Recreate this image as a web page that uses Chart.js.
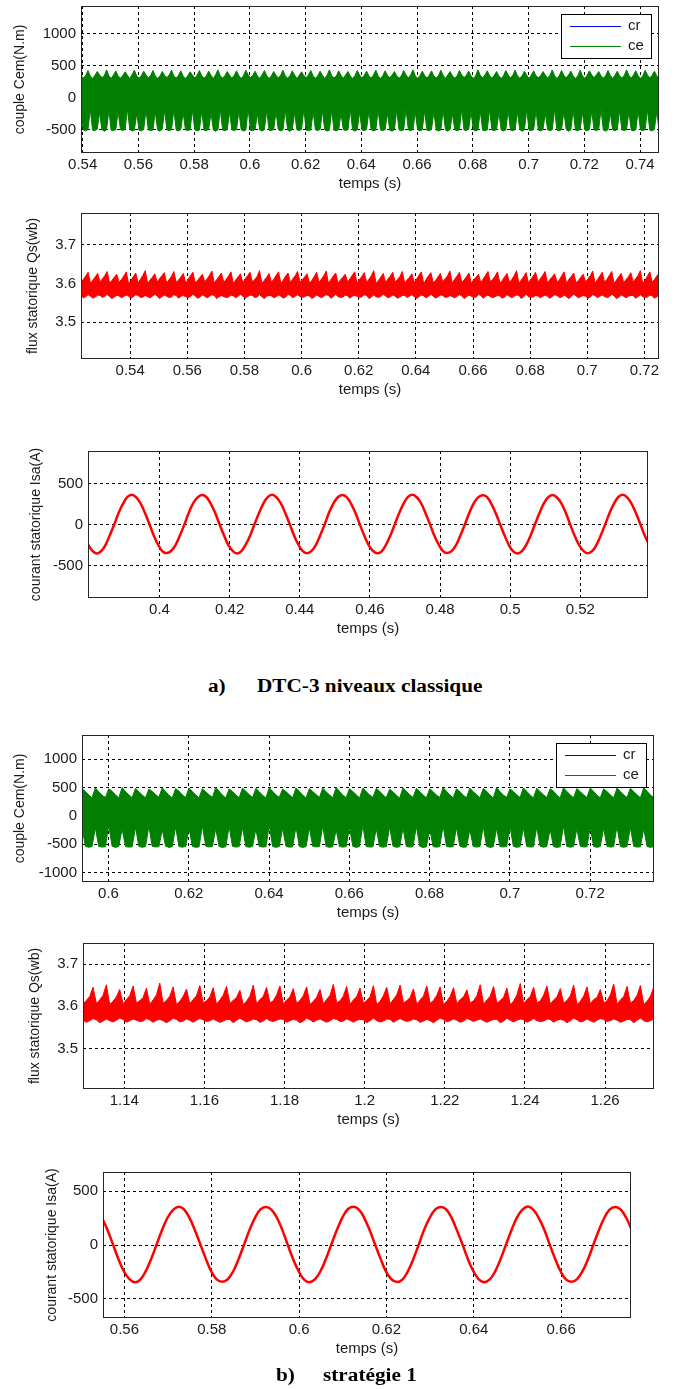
<!DOCTYPE html>
<html lang="fr">
<head>
<meta charset="UTF-8">
<title>DTC-3 niveaux</title>
<style>
  body { margin: 0; background: #fff; }
  .page { position: relative; width: 677px; height: 1389px; overflow: hidden; }
  canvas { position: absolute; left: 0; }
  .legende {
    position: absolute; font-family: "Liberation Serif", "Times New Roman", serif;
    font-weight: bold; font-size: 18px; line-height: 20px; color: #000;
    white-space: pre; transform: scaleX(1.18); transform-origin: left center;
  }
</style>
</head>
<body>
<div class="page">
  <canvas id="c1"></canvas>
  <canvas id="c2"></canvas>
  <canvas id="c3"></canvas>
  <canvas id="c4"></canvas>
  <canvas id="c5"></canvas>
  <canvas id="c6"></canvas>
  <div class="legende" style="left:208px;top:676px">a)</div>
  <div class="legende" style="left:257px;top:676px">DTC-3 niveaux classique</div>
  <div class="legende" style="left:276px;top:1365px">b)</div>
  <div class="legende" style="left:323px;top:1365px">stratégie 1</div>
</div>
<script src="https://cdn.jsdelivr.net/npm/chart.js"></script>
<script>
// ---- données ----
// couple a) : enveloppes haute / basse du signal ce, échantillonnées tous les pas1 (s)
const t1 = 0.5394, pas1 = 0.000833;
const ceHaut1 = [
  350,305,345,425, 340,300,350,410, 355,315,340,435, 345,300,355,420,
  335,310,345,405, 350,300,360,430, 340,305,345,415, 355,310,350,425,
  345,300,340,410, 350,315,355,430, 340,305,350,420, 335,300,345,405,
  355,310,350,425, 345,305,340,415, 350,300,360,435, 340,310,345,410,
  350,305,350,420, 345,300,345,430, 355,315,350,415, 340,305,355,425,
  345,300,340,410, 350,310,350,430, 340,305,345,420, 355,300,350,405,
  345,315,355,425, 340,305,345,415, 350,300,350,435, 345,310,340,420,
  350,305,355,410, 340,300,345,425, 355,310,350,415, 345,305,355,430,
  340,300,345,420, 350,315,350,410, 345,305,340,425, 355,310,355,435,
  345,300,345,415, 350,305,350,420, 340,310,345,430, 350,300,355,410,
  345,305,340,425, 355,315,350,415, 340,300,345,435, 350,310,355,420,
  345,305,350,410, 340,300,345,425, 355,310,350,430, 345,305,340,415,
  350,300,355,420, 340,315,345,410, 355,305,350,435, 345,300,345,425,
  350,310,355,415, 340,305,340,430, 345,300,350,420, 355,315,355,410,
  345,305,345,425, 350,300,350,415, 340,310,345,435, 350,305,355,420,
  345,300,340,430, 355,310,350,415, 340,305
];
const ceBas1 = [
  -200,-500,-515,-495, -180,-505,-510,-490, -230,-495,-520,-500, -190,-505,-512,-495,
  -210,-498,-510,-492, -170,-495,-518,-505, -240,-505,-515,-495, -185,-500,-510,-500,
  -215,-502,-520,-490, -195,-498,-512,-497, -175,-505,-516,-493, -225,-500,-510,-498,
  -190,-496,-518,-502, -205,-504,-511,-491, -235,-499,-521,-496, -180,-503,-514,-494,
  -220,-501,-509,-499, -200,-497,-517,-503, -170,-506,-513,-492, -245,-500,-519,-497,
  -195,-503,-511,-494, -210,-498,-516,-500, -185,-502,-522,-495, -230,-499,-510,-493,
  -175,-504,-515,-498, -215,-496,-512,-491, -200,-501,-518,-504, -190,-505,-514,-496,
  -240,-497,-511,-495, -180,-503,-519,-499, -220,-500,-513,-492, -205,-498,-517,-501,
  -185,-502,-510,-497, -235,-504,-520,-494, -195,-499,-514,-500, -170,-501,-512,-493,
  -225,-496,-518,-498, -200,-505,-511,-495, -210,-500,-516,-502, -190,-503,-521,-494,
  -245,-498,-513,-499, -175,-502,-509,-491, -215,-497,-519,-497, -205,-504,-515,-500,
  -180,-500,-512,-493, -230,-499,-517,-498, -195,-503,-514,-495, -220,-496,-520,-501,
  -185,-505,-510,-496, -200,-501,-518,-492, -240,-498,-513,-499, -175,-502,-516,-494,
  -210,-497,-521,-500, -190,-504,-511,-495, -225,-500,-515,-497, -205,-499,-512,-493,
  -180,-503,-519,-498, -235,-496,-514,-494, -195,-501,-510,-501, -215,-505,-517,-496,
  -200,-499,-513,-495, -185,-502,-518,-492, -220,-500
];

// flux a)
const t2 = 0.5228, pas2 = 0.000833;
const qsHaut1 = [
  3.602,3.611,3.619,3.629, 3.600,3.609,3.617,3.626, 3.604,3.612,3.620,3.631, 3.601,3.608,3.616,3.624,
  3.603,3.610,3.619,3.630, 3.599,3.608,3.618,3.627, 3.602,3.611,3.621,3.633, 3.600,3.609,3.616,3.625,
  3.604,3.612,3.620,3.628, 3.601,3.610,3.618,3.631, 3.603,3.609,3.617,3.626, 3.600,3.611,3.620,3.629,
  3.602,3.608,3.616,3.624, 3.604,3.612,3.621,3.632, 3.601,3.610,3.618,3.627, 3.603,3.611,3.619,3.630,
  3.600,3.609,3.617,3.625, 3.602,3.612,3.620,3.629, 3.604,3.610,3.618,3.633, 3.601,3.608,3.616,3.626,
  3.603,3.611,3.621,3.630, 3.600,3.609,3.619,3.627, 3.602,3.612,3.620,3.631, 3.604,3.610,3.617,3.625,
  3.601,3.608,3.618,3.629, 3.603,3.611,3.620,3.632, 3.600,3.610,3.619,3.627, 3.602,3.609,3.616,3.624,
  3.604,3.612,3.621,3.630, 3.601,3.610,3.618,3.628, 3.603,3.611,3.620,3.633, 3.600,3.608,3.617,3.626,
  3.602,3.612,3.619,3.629, 3.604,3.610,3.618,3.631, 3.601,3.609,3.616,3.625, 3.603,3.611,3.621,3.630,
  3.600,3.610,3.620,3.628, 3.602,3.608,3.617,3.626, 3.604,3.612,3.620,3.632, 3.601,3.611,3.619,3.629,
  3.603,3.609,3.618,3.627, 3.600,3.610,3.616,3.624, 3.602,3.612,3.621,3.631, 3.604,3.611,3.619,3.630,
  3.601,3.608,3.617,3.626, 3.603,3.610,3.620,3.633, 3.600,3.609,3.618,3.628, 3.602,3.611,3.619,3.629,
  3.604,3.612,3.621,3.631, 3.601,3.610,3.617,3.625, 3.603,3.609,3.620,3.630, 3.600,3.611,3.618,3.627,
  3.602,3.608,3.616,3.624, 3.604,3.612,3.620,3.632, 3.601,3.610,3.619,3.629, 3.603,3.611,3.621,3.631,
  3.600,3.609,3.618,3.626, 3.602,3.610,3.617,3.628, 3.604,3.612,3.620,3.633, 3.601,3.608,3.619,3.630,
  3.603,3.611,3.620,3.627
];
const qsBas1 = [
  3.568,3.563,3.566,3.571, 3.567,3.562,3.565,3.570, 3.569,3.564,3.567,3.572, 3.566,3.561,3.565,3.569,
  3.568,3.563,3.567,3.570, 3.567,3.562,3.566,3.571, 3.569,3.564,3.565,3.569, 3.566,3.563,3.567,3.572,
  3.568,3.561,3.566,3.570, 3.567,3.564,3.565,3.571, 3.569,3.562,3.567,3.569, 3.566,3.563,3.566,3.572,
  3.568,3.562,3.565,3.570, 3.567,3.563,3.567,3.571, 3.569,3.561,3.566,3.569, 3.566,3.564,3.565,3.570,
  3.568,3.563,3.567,3.572, 3.567,3.562,3.566,3.570, 3.569,3.564,3.565,3.571, 3.566,3.561,3.567,3.569,
  3.568,3.563,3.566,3.570, 3.567,3.562,3.565,3.572, 3.569,3.563,3.567,3.571, 3.566,3.564,3.566,3.569,
  3.568,3.561,3.565,3.570, 3.567,3.563,3.567,3.571, 3.569,3.562,3.566,3.572, 3.566,3.564,3.565,3.570,
  3.568,3.562,3.567,3.569, 3.567,3.563,3.566,3.571, 3.569,3.561,3.565,3.570, 3.566,3.564,3.567,3.572,
  3.568,3.563,3.566,3.570, 3.567,3.562,3.565,3.569, 3.569,3.564,3.567,3.571, 3.566,3.561,3.566,3.570,
  3.568,3.563,3.567,3.572, 3.567,3.562,3.566,3.570, 3.569,3.564,3.565,3.569, 3.566,3.563,3.567,3.571,
  3.568,3.561,3.566,3.570, 3.567,3.564,3.565,3.572, 3.569,3.562,3.567,3.570, 3.566,3.563,3.566,3.569,
  3.568,3.562,3.565,3.571, 3.567,3.563,3.567,3.570, 3.569,3.561,3.566,3.572, 3.566,3.564,3.565,3.569,
  3.568,3.563,3.567,3.570, 3.567,3.562,3.566,3.571, 3.569,3.564,3.565,3.570, 3.566,3.561,3.567,3.572,
  3.568,3.563,3.566,3.569, 3.567,3.562,3.565,3.571, 3.569,3.563,3.567,3.570, 3.566,3.564,3.566,3.572,
  3.568,3.561,3.565,3.570, 3.567,3.563,3.567,3.569, 3.569,3.562,3.566,3.571, 3.566,3.564,3.565,3.570,
  3.568,3.562,3.566,3.571
];

// courant a)
const t3 = 0.3796, pas3 = 0.00125;
const isa1 = [
  -238,-316,-347,-320,-244,-123,8,149,258,340,
  368,335,263,144,12,-128,-239,-321,-343,-315,-243,-125,6,148,264,336,
  363,340,259,147,9,-124,-244,-317,-348,-319,-238,-128,11,143,260,339,
  366,336,262,145,13,-127,-240,-320,-344,-316,-242,-122,7,150,262,337,
  364,339,260,148,8,-125,-243,-315,-346,-321,-240,-127,10,145,259,341,
  367,337,264,143,11,-129,-238,-319,-342,-317,-244,-124,9,147,263,335,
  362,341,258,146,10,-123,-242,-322,-347,-318,-239,-126,12,144,261,338,
  365,334,262,149,7,-128,-241,-316,-345,-320,-243,-125,8,146,260,340,
  366,336,259,144,11,-126,-240
];

// couple b)
const t4 = 0.5934, pas4 = 0.000833;
const ceHaut2 = [
  485,432,372,318, 495,428,365,325, 478,435,375,315, 500,430,368,322,
  488,426,370,320, 472,433,378,328, 497,429,366,316, 483,436,371,324,
  492,431,369,319, 480,427,374,326, 503,434,367,317, 476,430,372,321,
  490,433,376,323, 486,428,364,318, 498,435,370,327, 474,429,373,320,
  494,432,368,315, 482,430,377,325, 489,426,371,319, 501,434,366,322,
  479,431,374,317, 493,429,369,328, 485,436,372,321, 470,427,365,316,
  496,433,375,324, 487,430,370,319, 481,428,367,326, 499,435,373,318,
  477,432,366,322, 491,426,376,320, 484,434,371,315, 502,429,368,327,
  475,431,372,323, 495,433,369,317, 488,428,374,325, 480,436,367,320,
  497,430,371,318, 483,427,375,324, 492,434,366,321, 478,429,373,316,
  490,432,369,326, 486,430,372,319, 499,435,368,322
];
const ceBas2 = [
  -190,-538,-556,-544, -210,-542,-552,-547, -170,-536,-559,-541, -230,-544,-553,-548,
  -200,-539,-557,-543, -180,-541,-550,-546, -240,-537,-558,-545, -195,-543,-554,-540,
  -215,-540,-556,-549, -175,-535,-551,-542, -225,-542,-560,-546, -185,-538,-553,-544,
  -205,-544,-555,-541, -235,-539,-552,-547, -165,-541,-557,-543, -220,-536,-554,-548,
  -190,-543,-559,-545, -210,-537,-550,-542, -180,-540,-556,-546, -245,-542,-553,-544,
  -200,-538,-558,-541, -170,-544,-551,-548, -225,-539,-555,-543, -195,-535,-557,-546,
  -215,-541,-552,-544, -185,-537,-560,-547, -230,-543,-554,-542, -175,-540,-551,-545,
  -205,-536,-556,-549, -240,-542,-553,-543, -190,-538,-558,-546, -220,-544,-550,-541,
  -180,-539,-557,-545, -210,-541,-552,-548, -200,-537,-555,-542, -235,-543,-559,-546,
  -175,-540,-554,-544, -225,-536,-551,-547, -195,-542,-557,-543, -215,-538,-553,-545,
  -185,-544,-556,-541, -205,-539,-552,-548, -230,-541,-558,-544
];

// flux b)
const t5 = 1.1297, pas5 = 0.000833;
const qsHaut2 = [
  3.605,3.614,3.623,3.645, 3.607,3.615,3.626,3.651, 3.604,3.612,3.622,3.640, 3.606,3.616,3.625,3.648,
  3.608,3.613,3.621,3.643, 3.605,3.615,3.627,3.655, 3.607,3.614,3.624,3.646, 3.604,3.612,3.623,3.641,
  3.606,3.616,3.625,3.649, 3.608,3.613,3.622,3.644, 3.605,3.615,3.626,3.647, 3.607,3.614,3.621,3.638,
  3.604,3.612,3.624,3.650, 3.606,3.616,3.623,3.645, 3.608,3.613,3.627,3.648, 3.605,3.615,3.622,3.642,
  3.607,3.614,3.625,3.646, 3.604,3.612,3.621,3.640, 3.606,3.616,3.626,3.652, 3.608,3.613,3.624,3.647,
  3.605,3.615,3.623,3.643, 3.607,3.614,3.622,3.649, 3.604,3.612,3.625,3.645, 3.606,3.616,3.627,3.650,
  3.608,3.613,3.621,3.641, 3.605,3.615,3.624,3.648, 3.607,3.614,3.626,3.646, 3.604,3.612,3.623,3.644,
  3.606,3.616,3.622,3.639, 3.608,3.613,3.625,3.651, 3.605,3.615,3.624,3.647, 3.607,3.614,3.621,3.643,
  3.604,3.612,3.627,3.654, 3.606,3.616,3.623,3.645, 3.608,3.613,3.626,3.648, 3.605,3.615,3.622,3.642,
  3.607,3.614,3.625,3.650, 3.604,3.612,3.624,3.646, 3.606,3.616,3.621,3.640, 3.608,3.613,3.627,3.653,
  3.605,3.615,3.623,3.647, 3.607,3.614,3.626,3.649, 3.604,3.612,3.624,3.645
];
const qsBas2 = [
  3.567,3.562,3.566,3.571, 3.568,3.561,3.565,3.570, 3.566,3.563,3.567,3.572, 3.569,3.562,3.566,3.570,
  3.567,3.564,3.565,3.571, 3.568,3.562,3.567,3.569, 3.566,3.561,3.566,3.572, 3.569,3.563,3.565,3.570,
  3.567,3.562,3.567,3.571, 3.568,3.564,3.566,3.570, 3.566,3.562,3.565,3.569, 3.569,3.561,3.567,3.572,
  3.567,3.563,3.566,3.570, 3.568,3.562,3.565,3.571, 3.566,3.564,3.567,3.570, 3.569,3.562,3.566,3.569,
  3.567,3.561,3.565,3.572, 3.568,3.563,3.567,3.570, 3.566,3.562,3.566,3.571, 3.569,3.564,3.565,3.570,
  3.567,3.562,3.567,3.569, 3.568,3.561,3.566,3.572, 3.566,3.563,3.565,3.570, 3.569,3.562,3.567,3.571,
  3.567,3.564,3.566,3.570, 3.568,3.562,3.565,3.569, 3.566,3.561,3.567,3.572, 3.569,3.563,3.566,3.570,
  3.567,3.562,3.565,3.571, 3.568,3.564,3.567,3.570, 3.566,3.562,3.566,3.569, 3.569,3.561,3.565,3.572,
  3.567,3.563,3.567,3.570, 3.568,3.562,3.566,3.571, 3.566,3.564,3.565,3.570, 3.569,3.562,3.567,3.569,
  3.567,3.561,3.566,3.572, 3.568,3.563,3.565,3.570, 3.566,3.562,3.567,3.571, 3.569,3.564,3.566,3.570,
  3.567,3.562,3.565,3.569, 3.568,3.561,3.567,3.572, 3.566,3.563,3.566,3.570
];

// courant b)
const t6 = 0.5549, pas6 = 0.00125;
const isa2 = [
  250,138,4,-132,-247,-318,-348,-322,-243,-128,8,142,256,328,
  357,332,252,137,6,-129,-246,-321,-343,-319,-247,-131,3,141,253,331,
  354,329,256,141,2,-133,-244,-323,-347,-318,-244,-128,7,139,255,333,
  356,331,253,139,5,-127,-248,-319,-344,-322,-246,-132,4,143,252,329,
  353,333,255,136,7,-131,-243,-320,-346,-321,-245,-129,6,140,257,330,
  358,328,251,142,3,-130,-247,-322,-342,-317,-243,-133,5,138,254,332,
  355,330,254,141
];

// couple de charge cr (masqué sous ce)
const cr1 = [0, 0];
const cr2 = [0, 0];

// graduations
const xTicks1 = [0.54, 0.56, 0.58, 0.6, 0.62, 0.64, 0.66, 0.68, 0.7, 0.72, 0.74];
const xLabels1 = ['0.54', '0.56', '0.58', '0.6', '0.62', '0.64', '0.66', '0.68', '0.7', '0.72', '0.74'];
const xTicks2 = [0.54, 0.56, 0.58, 0.6, 0.62, 0.64, 0.66, 0.68, 0.7, 0.72];
const xLabels2 = ['0.54', '0.56', '0.58', '0.6', '0.62', '0.64', '0.66', '0.68', '0.7', '0.72'];
const xTicks3 = [0.4, 0.42, 0.44, 0.46, 0.48, 0.5, 0.52];
const xLabels3 = ['0.4', '0.42', '0.44', '0.46', '0.48', '0.5', '0.52'];
const xTicks4 = [0.6, 0.62, 0.64, 0.66, 0.68, 0.7, 0.72];
const xLabels4 = ['0.6', '0.62', '0.64', '0.66', '0.68', '0.7', '0.72'];
const xTicks5 = [1.14, 1.16, 1.18, 1.2, 1.22, 1.24, 1.26];
const xLabels5 = ['1.14', '1.16', '1.18', '1.2', '1.22', '1.24', '1.26'];
const xTicks6 = [0.56, 0.58, 0.6, 0.62, 0.64, 0.66];
const xLabels6 = ['0.56', '0.58', '0.6', '0.62', '0.64', '0.66'];
const yCouple1 = [-500, 0, 500, 1000];
const yCouple2 = [-1000, -500, 0, 500, 1000];
const yFlux = [3.5, 3.6, 3.7];
const yCourant = [-500, 0, 500];

// ---- dessin ----
const VERT = '#007f00', ROUGE = '#ff0000', BLEU = '#0000ff';
Chart.defaults.font.family = '"Liberation Sans", Arial, sans-serif';
Chart.defaults.color = '#1a1a1a';

// légendes cr / ce, par canvas (hors options Chart.js)
const legendes = {
  c1: [['cr', BLEU], ['ce', VERT]],
  c4: [['cr', BLEU], ['ce', VERT]]
};

function echantillons(t0, pas, valeurs) {
  return valeurs.map((y, i) => ({ x: t0 + i * pas, y: y }));
}

// cadre complet + légende dans la zone de tracé
const cadre = {
  id: 'cadre',
  afterDraw(chart) {
    const { ctx, chartArea: a } = chart;
    ctx.save();
    ctx.setLineDash([]);
    ctx.strokeStyle = '#262626';
    ctx.lineWidth = 1;
    ctx.strokeRect(a.left + 0.5, a.top + 0.5, a.right - a.left - 1, a.bottom - a.top - 1);
    const items = legendes[chart.canvas.id];
    if (items) {
      const x0 = Math.round(a.right - 8 - 90), y0 = Math.round(a.top + 8);
      ctx.fillStyle = '#ffffff';
      ctx.fillRect(x0, y0, 90, 44);
      ctx.strokeStyle = '#000000';
      ctx.strokeRect(x0 + 0.5, y0 + 0.5, 90, 44);
      ctx.font = '15px "Liberation Sans", Arial, sans-serif';
      ctx.textBaseline = 'middle';
      ctx.textAlign = 'left';
      for (let i = 0; i < items.length; i++) {
        const y = y0 + 12 + i * 20;
        ctx.fillStyle = items[i][1];
        ctx.fillRect(x0 + 9, y, 51, 1);
        ctx.fillStyle = '#1a1a1a';
        ctx.fillText(items[i][0], x0 + 67, y);
      }
    }
    ctx.restore();
  }
};

function graphe(id, g, datasets, ax) {
  const canvas = document.getElementById(id);
  canvas.width = 677;
  canvas.height = g.bas - g.haut + 6 + 48;
  canvas.style.top = (g.haut - 6) + 'px';
  const grille = { color: '#000', lineWidth: 1, drawTicks: false };
  new Chart(canvas, {
    type: 'line',
    data: { datasets: datasets },
    options: {
      responsive: false,
      animation: false,
      events: [],
      layout: { padding: { left: 0, top: 6, right: 677 - g.droite, bottom: 0 } },
      elements: { point: { radius: 0 } },
      plugins: { legend: { display: false }, tooltip: { enabled: false } },
      scales: {
        x: {
          type: 'linear', min: ax.xMin, max: ax.xMax,
          afterBuildTicks: s => { s.ticks = ax.xTicks.map(v => ({ value: v })); },
          afterFit: s => { s.height = 48; s.paddingLeft = 0; s.paddingRight = 0; },
          ticks: { autoSkip: false, maxRotation: 0, padding: 3, font: { size: 15 },
                   callback: (v, i) => ax.xLabels[i] },
          grid: grille,
          border: { display: false, dash: [3, 3] },
          title: { display: true, text: 'temps (s)', font: { size: 15 }, padding: { top: 0, bottom: 8 } }
        },
        y: {
          min: ax.yMin, max: ax.yMax,
          afterBuildTicks: s => { s.ticks = ax.yTicks.map(v => ({ value: v })); },
          afterFit: s => { s.width = g.gauche; s.paddingTop = 0; s.paddingBottom = 0; },
          ticks: { autoSkip: false, padding: 5, font: { size: 15 },
                   callback: (v, i) => String(ax.yTicks[i]) },
          grid: grille,
          border: { display: false, dash: [3, 3] },
          title: { display: true, text: ax.yTitre, font: { size: 14 }, padding: { top: g.titreY, bottom: 0 } }
        }
      }
    },
    plugins: [cadre]
  });
}

function bande(label, haut, bas, couleur, t0, pas) {
  return [
    { label: label, data: echantillons(t0, pas, haut), borderColor: couleur, borderWidth: 1, fill: false, tension: 0 },
    { label: label + ' bas', data: echantillons(t0, pas, bas), borderColor: couleur, borderWidth: 1,
      backgroundColor: couleur, fill: '-1', tension: 0 }
  ];
}

// a) couple
graphe('c1', { gauche: 81, haut: 6, droite: 659, bas: 153, titreY: 11.6 },
  bande('ce', ceHaut1, ceBas1, VERT, t1, pas1).concat([
    { label: 'cr', data: [{ x: 0.5394, y: cr1[0] }, { x: 0.7468, y: cr1[1] }], borderColor: BLEU, borderWidth: 1 }
  ]),
  { xMin: 0.5394, xMax: 0.7468, xTicks: xTicks1, xLabels: xLabels1,
    yMin: -860, yMax: 1430, yTicks: yCouple1, yTitre: 'couple Cem(N.m)' });

// a) flux
graphe('c2', { gauche: 81, haut: 213, droite: 659, bas: 359, titreY: 24.6 },
  bande('qs', qsHaut1, qsBas1, ROUGE, t2, pas2),
  { xMin: 0.5228, xMax: 0.7251, xTicks: xTicks2, xLabels: xLabels2,
    yMin: 3.405, yMax: 3.782, yTicks: yFlux, yTitre: 'flux statorique Qs(wb)' });

// a) courant
graphe('c3', { gauche: 88, haut: 451, droite: 648, bas: 598, titreY: 28 },
  [{ label: 'isa', data: echantillons(t3, pas3, isa1), borderColor: ROUGE, borderWidth: 2.5, tension: 0.4 }],
  { xMin: 0.3796, xMax: 0.5393, xTicks: xTicks3, xLabels: xLabels3,
    yMin: -890, yMax: 900, yTicks: yCourant, yTitre: 'courant statorique Isa(A)' });

// b) couple
graphe('c4', { gauche: 82, haut: 735, droite: 654, bas: 882, titreY: 11.6 },
  bande('ce', ceHaut2, ceBas2, VERT, t4, pas4).concat([
    { label: 'cr', data: [{ x: 0.5934, y: cr2[0] }, { x: 0.7359, y: cr2[1] }], borderColor: BLEU, borderWidth: 1 }
  ]),
  { xMin: 0.5934, xMax: 0.7359, xTicks: xTicks4, xLabels: xLabels4,
    yMin: -1170, yMax: 1430, yTicks: yCouple2, yTitre: 'couple Cem(N.m)' });

// b) flux
graphe('c5', { gauche: 83, haut: 943, droite: 654, bas: 1089, titreY: 26.6 },
  bande('qs', qsHaut2, qsBas2, ROUGE, t5, pas5),
  { xMin: 1.1297, xMax: 1.2722, xTicks: xTicks5, xLabels: xLabels5,
    yMin: 3.404, yMax: 3.75, yTicks: yFlux, yTitre: 'flux statorique Qs(wb)' });

// b) courant
graphe('c6', { gauche: 103, haut: 1172, droite: 631, bas: 1318, titreY: 44 },
  [{ label: 'isa', data: echantillons(t6, pas6, isa2), borderColor: ROUGE, borderWidth: 2.5, tension: 0.4 }],
  { xMin: 0.5551, xMax: 0.676, xTicks: xTicks6, xLabels: xLabels6,
    yMin: -680, yMax: 680, yTicks: yCourant, yTitre: 'courant statorique Isa(A)' });
</script>
</body>
</html>
